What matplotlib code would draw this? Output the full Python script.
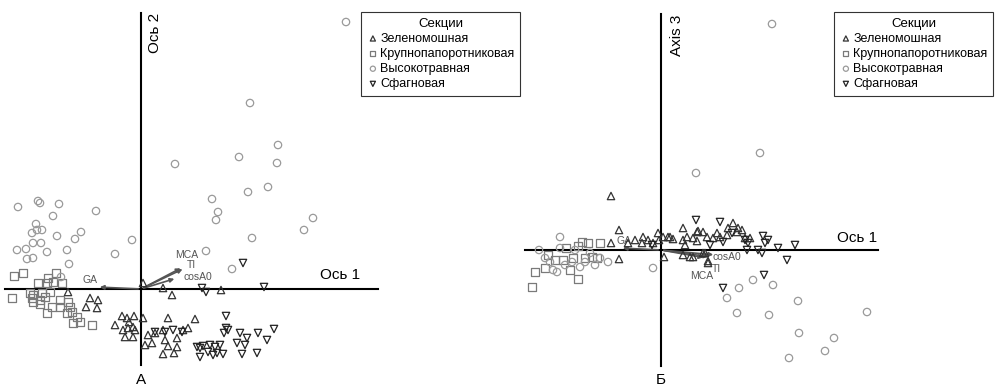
import matplotlib.pyplot as plt
import numpy as np

plt.rcParams['font.family'] = ['Liberation Sans', 'DejaVu Sans']

groups = ['Зеленомошная', 'Крупнопапоротниковая', 'Высокотравная', 'Сфагновая']
legend_title = 'Секции'

# ---- panel A: axis 1 vs axis 2 (site scores)
a_green = [(-0.73, -0.03), (-0.51, -0.09), (-0.43, -0.11), (-0.55, -0.18), (-0.44, -0.19),
           (0.02, 0.06), (0.22, 0.01), (0.31, -0.06), (0.80, -0.01),
           (-0.19, -0.27), (-0.14, -0.29), (-0.07, -0.27), (-0.26, -0.36), (-0.18, -0.41),
           (0.02, -0.29), (0.27, -0.29), (0.54, -0.30), (-0.06, -0.41), (-0.08, -0.48),
           (-0.16, -0.48), (0.07, -0.46), (0.14, -0.44), (0.22, -0.41), (0.36, -0.49),
           (0.04, -0.56), (0.11, -0.54), (0.24, -0.51), (0.27, -0.57), (0.36, -0.58),
           (0.22, -0.65), (0.33, -0.64), (0.42, -0.41), (0.47, -0.39), (-0.13, -0.39),
           (-0.08, -0.38), (-0.12, -0.33)]
a_fern = [(-1.27, 0.13), (-1.18, 0.16), (-0.85, 0.16), (-0.93, 0.11), (-1.03, 0.06),
          (-0.94, 0.06), (-0.88, 0.07), (-0.79, 0.06), (-1.29, -0.09), (-1.11, -0.04),
          (-1.08, -0.06), (-0.99, -0.04), (-0.91, -0.03), (-1.09, -0.09), (-1.01, -0.11),
          (-0.96, -0.08), (-1.08, -0.13), (-1.01, -0.15), (-0.81, -0.11), (-0.73, -0.13),
          (-0.89, -0.18), (-0.81, -0.18), (-0.71, -0.18), (-0.94, -0.24), (-0.74, -0.24),
          (-0.69, -0.23), (-0.64, -0.28), (-0.68, -0.34), (-0.61, -0.33), (-0.49, -0.36)]
a_herb = [(-1.23, 0.82), (-1.03, 0.88), (-1.01, 0.86), (-0.82, 0.85), (-0.88, 0.73),
          (-0.45, 0.78), (-1.05, 0.65), (-1.09, 0.56), (-1.04, 0.59), (-0.99, 0.59),
          (-0.84, 0.53), (-0.60, 0.57), (-0.66, 0.50), (-1.08, 0.46), (-1.00, 0.46),
          (-1.24, 0.39), (-1.15, 0.40), (-0.94, 0.37), (-0.74, 0.39), (-1.14, 0.30),
          (-1.08, 0.31), (-0.72, 0.25), (-0.26, 0.35), (-0.09, 0.49), (-0.80, 0.12),
          (0.65, 0.38), (1.11, 0.51), (0.91, 0.20), (1.63, 0.59), (1.09, 1.86),
          (1.37, 1.44), (0.98, 1.32), (1.36, 1.26), (0.34, 1.25), (1.27, 1.02),
          (1.07, 0.97), (0.71, 0.90), (0.77, 0.77), (0.75, 0.69), (1.72, 0.71),
          (2.05, 2.67)]
a_sphag = [(1.02, 0.26), (1.23, 0.02), (0.61, 0.01), (0.65, -0.03), (0.85, -0.27),
           (0.85, -0.39), (0.87, -0.41), (0.83, -0.44), (0.99, -0.44), (1.06, -0.49),
           (1.17, -0.44), (1.33, -0.40), (1.26, -0.51), (0.96, -0.54), (1.04, -0.56),
           (1.16, -0.64), (1.01, -0.65), (0.56, -0.58), (0.59, -0.59), (0.62, -0.57),
           (0.69, -0.56), (0.74, -0.58), (0.79, -0.56), (0.59, -0.68), (0.67, -0.63),
           (0.72, -0.66), (0.76, -0.64), (0.82, -0.65), (0.32, -0.41), (0.41, -0.43),
           (0.14, -0.43), (0.24, -0.43)]

# ---- panel Б: axis 1 vs axis 3
b_green = [(-0.50, 0.54), (-0.42, 0.20), (-0.50, 0.07), (-0.42, -0.09), (-0.26, 0.10),
           (-0.18, 0.13), (-0.13, 0.10), (-0.19, 0.07), (-0.08, 0.07), (-0.03, 0.17),
           (-0.02, 0.10), (0.07, 0.13), (0.12, 0.11), (0.22, 0.22), (0.22, 0.10),
           (0.26, 0.13), (0.32, 0.12), (0.36, 0.18), (0.42, 0.18), (0.46, 0.13),
           (0.56, 0.17), (0.03, -0.07), (0.44, -0.03), (0.22, -0.05), (0.29, -0.07),
           (0.47, -0.11), (0.37, 0.19), (0.09, 0.13), (0.02, 0.13), (0.52, 0.12),
           (0.59, 0.13), (0.66, 0.15), (0.72, 0.27), (0.67, 0.22), (0.77, 0.22),
           (0.81, 0.20), (0.76, 0.18), (0.84, 0.12), (0.89, 0.12), (0.24, 0.05),
           (0.36, 0.09), (0.32, -0.07), (0.42, -0.03), (0.47, -0.13), (-0.33, 0.07)]
b_fern = [(-1.26, -0.22), (-1.16, -0.18), (-1.29, -0.37), (-0.83, -0.29), (-0.91, -0.20),
          (-0.79, 0.08), (-0.73, 0.07), (-0.61, 0.07), (-0.98, -0.10), (-0.88, -0.08),
          (-0.76, -0.08), (-0.69, -0.07), (-1.06, -0.10), (-0.64, -0.08), (-0.95, 0.02),
          (-0.83, 0.04), (-1.13, -0.05)]
b_herb = [(1.11, 2.26), (0.99, 0.97), (0.35, 0.77), (-1.01, 0.13), (-1.22, 0.00),
          (-0.08, -0.18), (-1.08, -0.20), (-1.16, -0.08), (-1.11, -0.12), (-1.04, -0.22),
          (-0.96, -0.15), (-0.89, -0.12), (-0.81, -0.17), (-0.76, -0.12), (-0.66, -0.15),
          (-0.61, -0.08), (-0.53, -0.12), (-0.86, 0.00), (-0.71, -0.03), (-1.01, 0.02),
          (0.78, -0.38), (0.92, -0.30), (1.12, -0.35), (0.66, -0.48), (1.37, -0.51),
          (0.76, -0.63), (1.08, -0.65), (2.06, -0.62), (1.38, -0.83), (1.73, -0.88),
          (1.64, -1.01), (1.28, -1.08)]
b_sphag = [(0.35, 0.30), (0.49, 0.05), (0.59, 0.28), (0.71, 0.17), (0.84, 0.10),
           (1.02, 0.14), (1.07, 0.10), (1.04, 0.07), (1.17, 0.02), (1.34, 0.05),
           (0.86, 0.00), (0.97, 0.00), (1.01, -0.03), (1.26, -0.10), (1.03, -0.25),
           (0.62, -0.38), (0.62, 0.08), (0.87, 0.07), (-0.09, 0.05)]

# environmental vectors
a_vec_names = ['MCA', 'TI', 'cosA0', 'GA']
a_vec = [(0.42, 0.22), (0.44, 0.21), (0.36, 0.11), (-0.44, 0.02)]
a_lab = [(0.46, 0.335), (0.50, 0.24), (0.57, 0.12), (-0.51, 0.09)]
b_vec_names = ['MCA', 'TI', 'cosA0', 'GA']
b_vec = [(0.45, -0.08), (0.50, -0.07), (0.55, -0.05), (-0.41, 0.02)]
b_lab = [(0.41, -0.26), (0.55, -0.185), (0.66, -0.075), (-0.37, 0.09)]

styles = [dict(marker='^', edgecolors='#333333'),
          dict(marker='s', edgecolors='#7a7a7a'),
          dict(marker='o', edgecolors='#9a9a9a'),
          dict(marker='v', edgecolors='#222222')]

fig = plt.figure(figsize=(9.98, 3.88), dpi=100)


def panel(rect, xlim, ylim, data, vecs, names, labpos, hline, vline,
          xlab, xlabpos, ylab, ylabpos, letter, letterpos, legpos):
    ax = fig.add_axes(rect)
    ax.set_xlim(xlim)
    ax.set_ylim(ylim)
    ax.axis('off')
    ax.plot(hline, [0, 0], color='black', lw=1.5, zorder=1)
    ax.plot([0, 0], vline, color='black', lw=1.5, zorder=1)
    for (dx, dy) in vecs:
        ax.annotate('', xy=(dx, dy), xytext=(0, 0),
                    arrowprops=dict(arrowstyle='-|>', color='#555555', lw=1.2,
                                    mutation_scale=6), zorder=2)
    for n, (tx, ty) in zip(names, labpos):
        ax.text(tx, ty, n, fontsize=7.5, color='#555555', ha='center', va='center')
    handles = []
    for pts, st, g in zip(data, styles, groups):
        arr = np.array(pts)
        h = ax.scatter(arr[:, 0], arr[:, 1], s=28, facecolors='none',
                       linewidths=0.9, label=g, zorder=3, **st)
        handles.append(h)
    ax.text(xlabpos[0], xlabpos[1], xlab, fontsize=11, ha='center', va='center')
    ax.text(ylabpos[0], ylabpos[1], ylab, fontsize=11, ha='center', va='center',
            rotation=90)
    ax.text(letterpos[0], letterpos[1], letter, fontsize=11, ha='center', va='center')
    leg = ax.legend(handles=handles, title=legend_title, loc='upper left',
                    bbox_to_anchor=legpos, bbox_transform=fig.transFigure,
                    borderaxespad=0, fancybox=False, framealpha=1, fontsize=9,
                    title_fontsize=9.5, handletextpad=0.1, handlelength=1.0,
                    labelspacing=0.25, borderpad=0.45, markerscale=0.7)
    leg.get_frame().set_edgecolor('#333333')
    leg.get_frame().set_linewidth(0.8)
    return ax


panel([0, 0, 400 / 998, 1], (-1.41, 2.59), (-0.99, 2.89),
      [a_green, a_fern, a_herb, a_sphag], a_vec, a_vec_names, a_lab,
      [-1.36, 2.37], [-0.76, 2.76],
      'Ось 1', (1.99, 0.14), 'Ось 2', (0.14, 2.56), 'А', (0.0, -0.91),
      (361 / 998, 1 - 12 / 388))

panel([500 / 998, 0, 400 / 998, 1], (-1.61, 2.39), (-1.38, 2.50),
      [b_green, b_fern, b_herb, b_sphag], b_vec, b_vec_names, b_lab,
      [-1.36, 2.17], [-1.16, 2.36],
      'Ось 1', (1.96, 0.12), 'Axis 3', (0.16, 2.15), 'Б', (0.0, -1.30),
      (834 / 998, 1 - 12 / 388))

fig.savefig('out.png', dpi=100)
